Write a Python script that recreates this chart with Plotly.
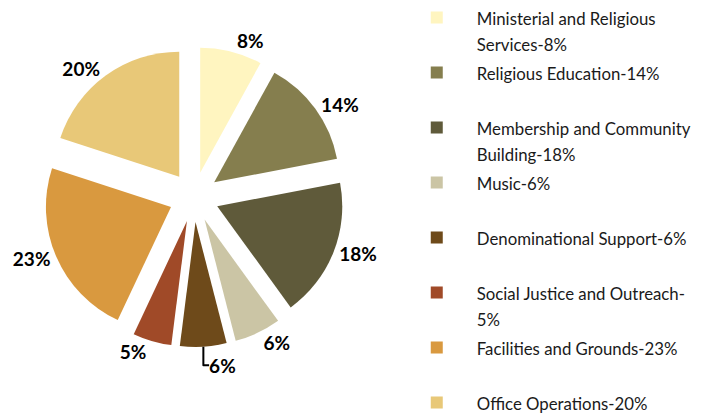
import plotly.graph_objects as go

categories = ["Ministerial and Religious Services", "Religious Education",
              "Membership and Community Building", "Music", "Denominational Support",
              "Social Justice and Outreach", "Facilities and Grounds", "Office Operations"]
legend_lines = [["Ministerial and Religious", "Services-8%"], ["Religious Education-14%", " "],
                ["Membership and Community", "Building-18%"], ["Music-6%", " "],
                ["Denominational Support-6%", " "], ["Social Justice and Outreach-", "5%"],
                ["Facilities and Grounds-23%", " "], ["Office Operations-20%"]]
values = [8, 14, 18, 6, 6, 5, 23, 20]
colors = ["#FFF5C0", "#857E4E", "#5F5A3A", "#CBC5A5", "#6E4A1A", "#A04A28", "#D9993F", "#E8C878"]

legend_labels = ["<br>".join(f"<span style='font-size:16.8px'>{t}</span>" for t in ln)
                 for ln in legend_lines]

fig = go.Figure(go.Pie(
    labels=legend_labels,
    values=values,
    customdata=categories,
    sort=False,
    direction="clockwise",
    rotation=0,
    pull=[0.2] * len(values),
    marker=dict(colors=colors, line=dict(width=0)),
    texttemplate="<b>%{value}%</b>",
    textposition="outside",
    textfont=dict(family="Lato", size=19, color="black"),
    domain=dict(x=[0.051, 0.478], y=[0.181, 0.906]),
    hoverinfo="label+percent",
))

fig.update_layout(
    width=703, height=414,
    margin=dict(l=0, r=0, t=0, b=0, autoexpand=False),
    paper_bgcolor="white",
    plot_bgcolor="white",
    showlegend=True,
    legend=dict(x=0.553, y=1.024, xanchor="left", yanchor="top",
                font=dict(family="Lato", size=20, color="#1a1a1a"),
                valign="top", itemwidth=70, tracegroupgap=0, maxheight=800,
                bgcolor="rgba(0,0,0,0)"),
)

fig.write_html("out.html")
